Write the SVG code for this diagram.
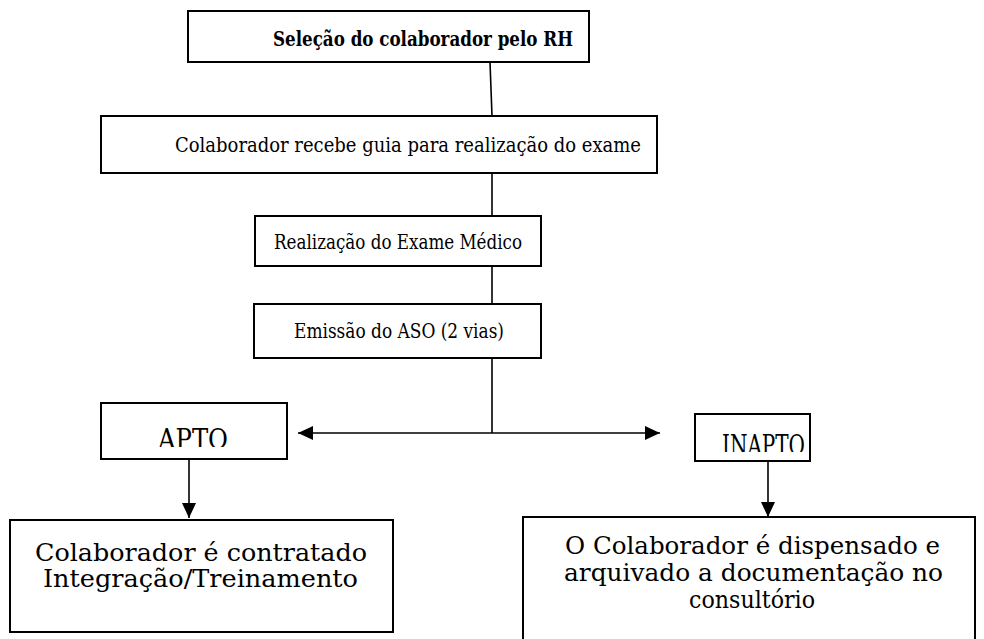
<svg xmlns="http://www.w3.org/2000/svg" width="984" height="639" viewBox="0 0 984 639">
<style>
.box{fill:#fff;stroke:#000;stroke-width:2}
.ln{fill:none;stroke:#000;stroke-width:1.6}
.t{font-family:"DejaVu Serif","Liberation Serif",serif;font-stretch:semi-condensed;font-size:21px;fill:#000}
.b{font-weight:bold;font-size:20px}
.l{font-size:24px}
.c{font-size:27px}
</style>
<defs>
<marker id="av" markerWidth="16" markerHeight="16" refX="15" refY="8" orient="auto-start-reverse" markerUnits="userSpaceOnUse">
<path d="M0,1 L15,8 L0,15 Z" fill="#000"/>
</marker>
<clipPath id="c1"><rect x="102" y="404" width="184" height="43"/></clipPath>
<clipPath id="c2"><rect x="696" y="415" width="113" height="37"/></clipPath>
</defs>
<g id="connectors">
<line class="ln" x1="490" y1="62" x2="492" y2="116"/>
<line class="ln" x1="492" y1="173" x2="492" y2="216"/>
<line class="ln" x1="492" y1="266" x2="492" y2="304"/>
<line class="ln" x1="492" y1="358" x2="492" y2="433"/>
<line class="ln" x1="298" y1="433" x2="660" y2="433" marker-start="url(#av)" marker-end="url(#av)"/>
<line class="ln" x1="189" y1="459" x2="189" y2="518" marker-end="url(#av)"/>
<line class="ln" x1="768" y1="461" x2="768" y2="517" marker-end="url(#av)"/>
</g>
<g id="n1">
<rect class="box" x="188" y="11" width="401" height="51"/>
<text class="t b" x="273" y="46" textLength="300" lengthAdjust="spacingAndGlyphs">Seleção do colaborador pelo RH</text>
</g>
<g id="n2">
<rect class="box" x="101" y="116" width="556" height="57"/>
<text class="t" x="175" y="152" textLength="466" lengthAdjust="spacingAndGlyphs">Colaborador recebe guia para realização do exame</text>
</g>
<g id="n3">
<rect class="box" x="255" y="216" width="286" height="50"/>
<text class="t" x="274" y="249" textLength="248" lengthAdjust="spacingAndGlyphs">Realização do Exame Médico</text>
</g>
<g id="n4">
<rect class="box" x="254" y="304" width="287" height="54"/>
<text class="t" x="294" y="338" textLength="210" lengthAdjust="spacingAndGlyphs">Emissão do ASO (2 vias)</text>
</g>
<g id="n5">
<rect class="box" x="101" y="403" width="186" height="56"/>
<text class="t c" x="158" y="449" textLength="70" lengthAdjust="spacingAndGlyphs" clip-path="url(#c1)">APTO</text>
</g>
<g id="n6">
<rect class="box" x="695" y="414" width="115" height="47"/>
<text class="t c" x="722" y="455" textLength="83" lengthAdjust="spacingAndGlyphs" clip-path="url(#c2)">INAPTO</text>
</g>
<g id="n7">
<rect class="box" x="10" y="520" width="383" height="112"/>
<text class="t l" x="35" y="561" textLength="332" lengthAdjust="spacingAndGlyphs">Colaborador é contratado</text>
<text class="t l" x="43" y="587" textLength="315" lengthAdjust="spacingAndGlyphs">Integração/Treinamento</text>
</g>
<g id="n8">
<rect class="box" x="523" y="517" width="452" height="125"/>
<text class="t l" x="565" y="554" textLength="375" lengthAdjust="spacingAndGlyphs">O Colaborador é dispensado e</text>
<text class="t l" x="564" y="581" textLength="379" lengthAdjust="spacingAndGlyphs">arquivado a documentação no</text>
<text class="t l" x="689" y="608" textLength="126" lengthAdjust="spacingAndGlyphs">consultório</text>
</g>
</svg>
